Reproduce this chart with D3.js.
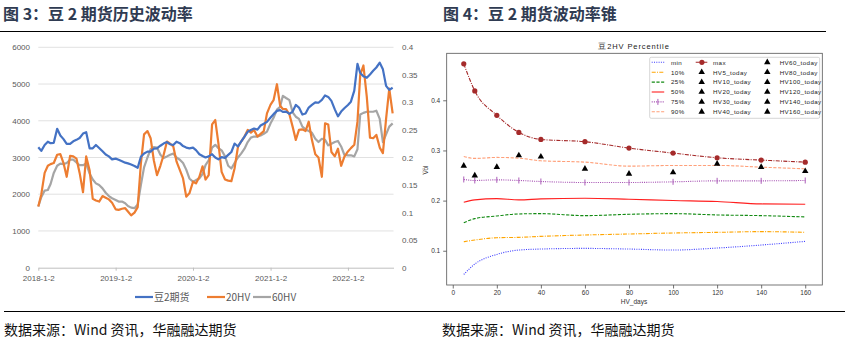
<!DOCTYPE html>
<html>
<head>
<meta charset="utf-8">
<script src="https://cdn.jsdelivr.net/npm/d3@7"></script>
<style>
  body { margin: 0; background: #fff; }
  svg { display: block; }
</style>
</head>
<body>
<div id="chart"></div>
<script>
// ---- data: fig 3, semi-monthly samples ----
var dates = [
  "2018-01-02","2018-01-16","2018-02-01","2018-02-16","2018-03-01","2018-03-16","2018-04-01","2018-04-16",
  "2018-05-01","2018-05-16","2018-06-01","2018-06-16","2018-07-01","2018-07-16","2018-08-01","2018-08-16",
  "2018-09-01","2018-09-16","2018-10-01","2018-10-16","2018-11-01","2018-11-16","2018-12-01","2018-12-16",
  "2019-01-02","2019-01-16","2019-02-01","2019-02-16","2019-03-01","2019-03-16","2019-04-01","2019-04-16",
  "2019-05-01","2019-05-16","2019-06-01","2019-06-16","2019-07-01","2019-07-16","2019-08-01","2019-08-16",
  "2019-09-01","2019-09-16","2019-10-01","2019-10-16","2019-11-01","2019-11-16","2019-12-01","2019-12-16",
  "2020-01-02","2020-01-16","2020-02-01","2020-02-16","2020-03-01","2020-03-16","2020-04-01","2020-04-16",
  "2020-05-01","2020-05-16","2020-06-01","2020-06-16","2020-07-01","2020-07-16","2020-08-01","2020-08-16",
  "2020-09-01","2020-09-16","2020-10-01","2020-10-16","2020-11-01","2020-11-16","2020-12-01","2020-12-16",
  "2021-01-02","2021-01-16","2021-02-01","2021-02-16","2021-03-01","2021-03-16","2021-04-01","2021-04-16",
  "2021-05-01","2021-05-16","2021-06-01","2021-06-16","2021-07-01","2021-07-16","2021-08-01","2021-08-16",
  "2021-09-01","2021-09-16","2021-10-01","2021-10-16","2021-11-01","2021-11-16","2021-12-01","2021-12-16",
  "2022-01-02","2022-01-16","2022-02-01","2022-02-16","2022-03-01","2022-03-16","2022-04-01","2022-04-16",
  "2022-05-01","2022-05-16","2022-06-01","2022-06-16","2022-07-01","2022-07-16","2022-08-01"
];
var futures = [
  3280,3180,3340,3430,3390,3400,3780,3600,3500,3370,3370,3440,3480,3530,3650,3690,
  3250,3250,3340,3260,3170,3080,3030,2950,2970,2940,2900,2860,2840,2810,2770,2720,
  3020,3110,3160,3160,3240,3250,3320,3380,3420,3360,3340,3430,3390,3310,3270,3250,
  3270,3200,3090,3040,3000,3030,3090,3000,2950,3010,2990,3070,3150,3380,3300,3430,
  3570,3700,3750,3790,3760,3870,3920,3970,4090,4180,4270,4290,4240,4250,4190,4250,
  4430,4360,4170,4200,4360,4430,4500,4490,4570,4690,4650,4540,4310,4120,4250,4340,
  4430,4520,4820,5550,5300,5210,5170,5260,5360,5450,5580,5400,4950,4840,4900
];
var hv20 = [
  0.111,0.133,0.172,0.185,0.188,0.190,0.205,0.206,0.190,0.165,0.203,0.202,0.198,0.172,0.137,0.202,
  0.177,0.125,0.122,0.120,0.130,0.127,0.124,0.118,0.106,0.105,0.107,0.108,0.102,0.095,0.100,0.110,
  0.189,0.242,0.248,0.235,0.195,0.168,0.185,0.204,0.229,0.225,0.220,0.193,0.177,0.162,0.129,0.135,
  0.156,0.153,0.165,0.184,0.160,0.168,0.260,0.268,0.225,0.174,0.160,0.158,0.157,0.180,0.219,0.229,
  0.238,0.250,0.245,0.250,0.238,0.243,0.248,0.280,0.296,0.304,0.333,0.294,0.288,0.288,0.278,0.256,
  0.232,0.250,0.251,0.248,0.265,0.232,0.206,0.200,0.165,0.262,0.260,0.210,0.202,0.216,0.185,0.201,
  0.211,0.217,0.223,0.265,0.350,0.367,0.310,0.236,0.235,0.241,0.218,0.208,0.270,0.325,0.280
];
var hv60 = [
  0.111,0.128,0.140,0.141,0.152,0.172,0.185,0.189,0.188,0.190,0.196,0.196,0.191,0.186,0.186,0.189,
  0.171,0.160,0.153,0.150,0.144,0.136,0.130,0.126,0.123,0.120,0.120,0.117,0.112,0.109,0.108,0.115,
  0.150,0.182,0.200,0.215,0.219,0.218,0.205,0.199,0.202,0.205,0.207,0.200,0.196,0.190,0.178,0.162,
  0.156,0.159,0.162,0.170,0.186,0.195,0.218,0.223,0.217,0.213,0.202,0.185,0.180,0.190,0.200,0.207,
  0.216,0.228,0.236,0.238,0.238,0.240,0.243,0.247,0.262,0.272,0.287,0.292,0.312,0.308,0.304,0.282,
  0.274,0.270,0.256,0.251,0.248,0.245,0.234,0.228,0.234,0.232,0.222,0.225,0.228,0.230,0.220,0.205,
  0.204,0.204,0.202,0.215,0.278,0.281,0.283,0.283,0.283,0.285,0.270,0.228,0.242,0.256,0.262
];
var yearTicks = ["2018-01-02","2019-01-02","2020-01-02","2021-01-02","2022-01-02"];
var yearLabels = ["2018-1-2","2019-1-2","2020-1-2","2021-1-2","2022-1-2"];
var leftTicks = [0,1000,2000,3000,4000,5000,6000];
var rightTicks = [0,0.05,0.1,0.15,0.2,0.25,0.3,0.35,0.4];
var rightLabels = ["0","0.05","0.1","0.15","0.2","0.25","0.3","0.35","0.4"];

// ---- data: fig 4, HV cone ----
var hvDays = [5,10,20,30,40,60,80,100,120,140,160];
var pMin = [0.0527,0.0734,0.0927,0.1014,0.1034,0.1047,0.1034,0.1014,0.1054,0.1114,0.1187];
var p10  = [0.1180,0.1214,0.1260,0.1267,0.1287,0.1314,0.1334,0.1354,0.1367,0.1381,0.1367];
var p25  = [0.1560,0.1640,0.1694,0.1734,0.1740,0.1700,0.1727,0.1740,0.1714,0.1700,0.1674];
var p50  = [0.1967,0.2014,0.2040,0.2014,0.2034,0.2047,0.2027,0.2001,0.1981,0.1934,0.1927];
var p75  = [0.2421,0.2401,0.2414,0.2401,0.2381,0.2361,0.2361,0.2374,0.2394,0.2394,0.2401];
var p90  = [0.2880,0.2841,0.2861,0.2847,0.2794,0.2767,0.2687,0.2701,0.2701,0.2667,0.2634];
var pMax = [0.4727,0.4187,0.3700,0.3360,0.3220,0.3174,0.3047,0.2947,0.2854,0.2807,0.2767];
var today = [0.2694,0.2500,0.2668,0.2901,0.2874,0.2634,0.2534,0.2561,0.2734,0.2668,0.2587];
var coneTicksX = [0,20,40,60,80,100,120,140,160];
var coneTicksY = [0.1,0.2,0.3,0.4];

var W = 848, H = 351;
var svg = d3.select("#chart").append("svg").attr("width", W).attr("height", H);
var cjk = "'Noto Sans CJK SC', 'Noto Sans', sans-serif";

// headings + rules
svg.append("text").attr("x", 3).attr("y", 20).text("图 3：豆 2 期货历史波动率")
  .style("font-family", cjk).style("font-weight", "bold").style("font-size", "16px").style("fill", "#2f3b52");
svg.append("text").attr("x", 443).attr("y", 20).text("图 4：豆 2 期货波动率锥")
  .style("font-family", cjk).style("font-weight", "bold").style("font-size", "16px").style("fill", "#2f3b52");
svg.append("line").attr("x1", 0).attr("x2", 826).attr("y1", 31.5).attr("y2", 31.5).style("stroke", "#000").style("stroke-width", 1.2);
svg.append("line").attr("x1", 4).attr("x2", 845).attr("y1", 311.5).attr("y2", 311.5).style("stroke", "#000").style("stroke-width", 1.2);
svg.append("text").attr("x", 4).attr("y", 335).text("数据来源：Wind 资讯，华融融达期货")
  .style("font-family", cjk).style("font-size", "14px").style("fill", "#111");
svg.append("text").attr("x", 442).attr("y", 335).text("数据来源：Wind 资讯，华融融达期货")
  .style("font-family", cjk).style("font-size", "14px").style("fill", "#111");

// ================= fig 3 =================
var parse = d3.timeParse("%Y-%m-%d");
var g3 = svg.append("g");
var x3 = d3.scaleTime().domain([parse("2018-01-02"), parse("2022-08-05")]).range([38.3, 393.5]);
var yL = d3.scaleLinear().domain([0, 6000]).range([267.7, 47.3]);
var yR = d3.scaleLinear().domain([0, 0.4]).range([267.7, 47.3]);
var tickFont = "'Liberation Sans', Arial, sans-serif";

g3.selectAll(".grid").data(leftTicks.slice(1)).enter().append("line")
  .attr("x1", 38.3).attr("x2", 393.5)
  .attr("y1", function(d) { return yL(d); }).attr("y2", function(d) { return yL(d); })
  .style("stroke", "#d9d9d9").style("stroke-width", 0.8);

var xAxis3 = g3.append("g").attr("transform", "translate(0," + yL(0) + ")")
  .call(d3.axisBottom(x3).tickValues(yearTicks.map(parse))
    .tickFormat(function(d, i) { return yearLabels[i]; }).tickSize(3).tickSizeOuter(0));
xAxis3.select(".domain").style("stroke", "#bfbfbf");
xAxis3.selectAll("line").style("stroke", "#bfbfbf");
xAxis3.selectAll("text").style("font-family", tickFont).style("font-size", "8px").style("fill", "#595959").attr("dy", "0.9em");

var yAxisL = g3.append("g").attr("transform", "translate(33,0)")
  .call(d3.axisLeft(yL).tickValues(leftTicks).tickFormat(d3.format("d")).tickSize(0));
yAxisL.select(".domain").remove();
yAxisL.selectAll("text").style("font-family", tickFont).style("font-size", "8px").style("fill", "#595959");

var yAxisR = g3.append("g").attr("transform", "translate(399,0)")
  .call(d3.axisRight(yR).tickValues(rightTicks).tickFormat(function(d, i) { return rightLabels[i]; }).tickSize(0));
yAxisR.select(".domain").remove();
yAxisR.selectAll("text").style("font-family", tickFont).style("font-size", "8px").style("fill", "#595959");

function seriesLine(vals, yScale) {
  return d3.line()
    .x(function(d, i) { return x3(parse(dates[i])); })
    .y(function(d) { return yScale(d); })(vals);
}
g3.append("path").attr("d", seriesLine(hv60, yR)).style("fill", "none").style("stroke", "#a5a5a5").style("stroke-width", 2.2).style("stroke-linejoin", "round");
g3.append("path").attr("d", seriesLine(hv20, yR)).style("fill", "none").style("stroke", "#ed7d31").style("stroke-width", 2.2).style("stroke-linejoin", "round");
g3.append("path").attr("d", seriesLine(futures, yL)).style("fill", "none").style("stroke", "#4472c4").style("stroke-width", 2.2).style("stroke-linejoin", "round");
// clipped right axis title stub
g3.append("line").attr("x1", 423).attr("x2", 423).attr("y1", 168).attr("y2", 175).style("stroke", "#bbb").style("stroke-width", 0.8).style("stroke-dasharray", "2,1");

// legend
var leg3 = [
  {name: "豆2期货", color: "#4472c4", x: 135},
  {name: "20HV", color: "#ed7d31", x: 207},
  {name: "60HV", color: "#a5a5a5", x: 253}
];
leg3.forEach(function(d) {
  g3.append("line").attr("x1", d.x).attr("x2", d.x + 18).attr("y1", 297).attr("y2", 297)
    .style("stroke", d.color).style("stroke-width", 2.2);
  g3.append("text").attr("x", d.x + 19).attr("y", 300.5).text(d.name)
    .style("font-family", cjk).style("font-size", "10px").style("fill", "#595959");
});

// ================= fig 4 =================
var g4 = svg.append("g");
var narrow = "'Liberation Sans Narrow', 'Liberation Sans', sans-serif";
var box = {l: 446.7, r: 822.3, t: 53.3, b: 285};
var allY = pMin.concat(pMax);
var ext = d3.extent(allY), pad = (ext[1] - ext[0]) * 0.05;
var xc = d3.scaleLinear().domain([5 - 155 * 0.05, 160 + 155 * 0.05]).range([box.l, box.r]);
var yc = d3.scaleLinear().domain([ext[0] - pad, ext[1] + pad]).range([box.b, box.t]);

g4.append("text").attr("x", 634).attr("y", 49).attr("text-anchor", "middle").text("豆2HV Percentile")
  .style("font-family", narrow).style("font-size", "7.5px").style("letter-spacing", "0.9px").style("fill", "#222");

var xAxis4 = g4.append("g").attr("transform", "translate(0," + box.b + ")")
  .call(d3.axisBottom(xc).tickValues(coneTicksX).tickSize(3.5).tickSizeOuter(0));
var yAxis4 = g4.append("g").attr("transform", "translate(" + box.l + ",0)")
  .call(d3.axisLeft(yc).tickValues(coneTicksY).tickFormat(d3.format(".1f")).tickSize(3.5).tickSizeOuter(0));
[xAxis4, yAxis4].forEach(function(a) {
  a.select(".domain").remove();
  a.selectAll("line").style("stroke", "#333").style("stroke-width", 0.7);
  a.selectAll("text").style("font-family", narrow).style("font-size", "6.5px").style("fill", "#333");
});
xAxis4.selectAll("text").attr("y", 5.5);
g4.append("text").attr("x", 634).attr("y", 304).attr("text-anchor", "middle").text("HV_days")
  .style("font-family", narrow).style("font-size", "6.5px").style("fill", "#333");
g4.append("text").attr("transform", "translate(428,170) rotate(-90)").attr("text-anchor", "middle").text("Vol")
  .style("font-family", narrow).style("font-size", "6.5px").style("fill", "#333");

var cone = [
  {name: "min", vals: pMin, color: "#3b3bff", dash: "1,1.3"},
  {name: "10%", vals: p10, color: "#ffa500", dash: "4,1.3,1,1.3"},
  {name: "25%", vals: p25, color: "#128a12", dash: "3.2,1.5"},
  {name: "50%", vals: p50, color: "#ff2020", dash: null},
  {name: "75%", vals: p75, color: "#a24ab0", dash: "1,1.2", tick: true},
  {name: "90%", vals: p90, color: "#ffa07a", dash: "3.2,1.5"},
  {name: "max", vals: pMax, color: "#a52a2a", dash: "4,1.3,1,1.3", dot: true}
];
var coneLine = d3.line().curve(d3.curveMonotoneX)
  .x(function(d, i) { return xc(hvDays[i]); })
  .y(function(d) { return yc(d); });

cone.forEach(function(s) {
  g4.append("path").attr("d", coneLine(s.vals)).style("fill", "none").style("stroke", s.color)
    .style("stroke-width", 1.1).style("stroke-dasharray", s.dash);
  if (s.tick) {
    g4.selectAll(null).data(s.vals).enter().append("line")
      .attr("x1", function(d, i) { return xc(hvDays[i]); }).attr("x2", function(d, i) { return xc(hvDays[i]); })
      .attr("y1", function(d) { return yc(d) - 3; }).attr("y2", function(d) { return yc(d) + 3; })
      .style("stroke", s.color).style("stroke-width", 0.9);
  }
  if (s.dot) {
    g4.selectAll(null).data(s.vals).enter().append("circle")
      .attr("cx", function(d, i) { return xc(hvDays[i]); }).attr("cy", function(d) { return yc(d); })
      .attr("r", 2.6).style("fill", s.color);
  }
});

var tri = d3.symbol().type(d3.symbolTriangle).size(18);
g4.selectAll(".today").data(today).enter().append("path")
  .attr("d", tri)
  .attr("transform", function(d, i) { return "translate(" + xc(hvDays[i]) + "," + yc(d) + ")"; })
  .style("fill", "#000");

// frame
g4.append("rect").attr("x", box.l).attr("y", box.t).attr("width", box.r - box.l).attr("height", box.b - box.t)
  .style("fill", "none").style("stroke", "#555").style("stroke-width", 0.8);

// legend
var lg = g4.append("g");
lg.append("rect").attr("x", 649.7).attr("y", 57.3).attr("width", 170).attr("height", 61).attr("rx", 1.5)
  .style("fill", "#fff").style("fill-opacity", 0.85).style("stroke", "#cccccc").style("stroke-width", 0.8);
var legItems = cone.slice(0, 6).concat([cone[6]]).concat(hvDays.map(function(d) { return {name: "HV" + d + "_today", tri: true}; }));
legItems.forEach(function(d, i) {
  var col = Math.floor(i / 6), row = i % 6;
  var hx = [651.7, 695.7, 761.3][col], tx = [671, 713, 779.7][col];
  var yy = 62.3 + row * 9.9;
  if (d.tri) {
    lg.append("path").attr("d", tri).attr("transform", "translate(" + (hx + 6) + "," + yy + ")").style("fill", "#000");
  } else {
    lg.append("line").attr("x1", hx).attr("x2", hx + 12.5).attr("y1", yy).attr("y2", yy)
      .style("stroke", d.color).style("stroke-width", 1.1).style("stroke-dasharray", d.dash);
    if (d.dot) lg.append("circle").attr("cx", hx + 6.2).attr("cy", yy).attr("r", 2.6).style("fill", d.color);
    if (d.tick) lg.append("line").attr("x1", hx + 6.2).attr("x2", hx + 6.2).attr("y1", yy - 3).attr("y2", yy + 3)
      .style("stroke", d.color).style("stroke-width", 0.9);
  }
  lg.append("text").attr("x", tx).attr("y", yy + 2.3).text(d.name)
    .style("font-family", narrow).style("font-size", "6.2px").style("letter-spacing", "0.4px").style("fill", "#222");
});
</script>
</body>
</html>
